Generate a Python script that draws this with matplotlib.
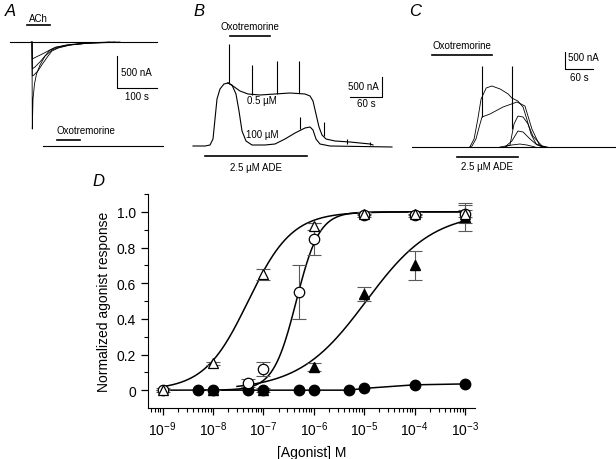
import numpy as np
import matplotlib
matplotlib.use("Agg")
import matplotlib.pyplot as plt
from matplotlib.ticker import FixedLocator, LogLocator, NullFormatter

plt.rcParams['font.family'] = ['Liberation Sans', 'DejaVu Sans']
plt.rcParams['mathtext.fontset'] = 'custom'
plt.rcParams['mathtext.rm'] = 'Liberation Sans'
plt.rcParams['mathtext.it'] = 'Liberation Sans:italic'

# ---------------- panel A: ACh currents (t in s, I in nA) ----------------
ach_base_t = [0, 367.5]
ach_base_i = [0, 0]
ach_traces = [
    ([52.5, 55, 55.75, 57.5, 61.25, 66.25, 75, 87.5, 105, 125, 150, 187.5, 250],
     [0, 0, -1360, -890, -655, -500, -360, -220, -125, -78, -47, -23, -8]),
    ([55, 55.75, 60, 70, 82.5, 95, 105, 120, 150, 200, 275],
     [0, -530, -515, -450, -330, -220, -140, -95, -47, -15, 0]),
    ([55, 55.75, 62.5, 75, 90, 100, 115, 145, 200, 262.5],
     [0, -420, -390, -310, -200, -125, -78, -47, -15, 0]),
    ([55, 55.75, 65, 80, 95, 110, 140, 187.5, 250],
     [0, -265, -235, -190, -140, -95, -47, -15, 0]),
]
oxo_a_t = [82.5, 382.5]
oxo_a_i = [-1625, -1625]

# ---------------- panel B: ADE + oxotremorine ----------------
b_rise_t = [0, 22.5, 31.9, 37.5, 41.25, 45, 50.6, 58.1, 65.6]
b_rise_i = [0, 0, 25, 175, 675, 1175, 1425, 1550, 1575]
b_05_t = [75, 88.1, 103.1, 125.6, 153.75, 181.9, 210, 219.4, 225, 230.6, 236.25,
          241.9, 249.4, 266.25, 294.4, 331.9, 337.5]
b_05_i = [1500, 1375, 1300, 1275, 1300, 1325, 1300, 1250, 1125, 800, 475,
          275, 175, 125, 100, 50, 25]
b_100_t = [73.1, 80.6, 86.25, 91.9, 99.4, 110.6, 135, 153.75, 172.5, 191.25, 210,
           219.4, 225, 230.6, 238.1, 256.9, 373.1]
b_100_i = [1525, 1300, 875, 375, 125, 25, 25, 50, 175, 325, 450,
           475, 400, 175, 50, 0, -25]
b_spike_t = [67.5, 110.6, 157.5, 198.75, 200.6, 245.6, 289, 332]
b_spike_lo = [1575, 1275, 1300, 1325, 425, 250, 50, 25]
b_spike_hi = [2550, 2025, 2125, 2125, 725, 600, 175, 100]

# ---------------- panel C ----------------
c_base_t = [0, 437]
c_base_i = [0, 0]
c_traces = [
    ([124, 133, 141, 148, 159, 171, 189, 206, 214, 227, 238, 246, 255, 266, 285],
     [0, 235, 820, 1410, 1735, 1795, 1705, 1560, 1440, 1350, 1175, 820, 380, 90, 0]),
    ([124, 128.6, 137, 145.7, 150, 167, 195, 225, 242, 257, 274, 285],
     [0, 29, 235, 676, 882, 970, 1176, 1323, 1205, 529, 29, 0]),
    ([199, 210, 218.6, 227, 238, 248.6, 259, 278.6, 290],
     [0, 59, 676, 911, 882, 676, 323, 29, 0]),
    ([199, 214, 227, 238, 253, 268, 285],
     [0, 176, 470, 441, 235, 59, 0]),
    ([188.6, 214, 231, 246, 263.6],
     [0, 59, 88, 59, 0]),
]
c_spike_t = [150, 214]
c_spike_lo = [882, 529]
c_spike_hi = [2381, 2381]

# ---------------- panel D: concentration-response ----------------
conc_otri = [1e-9, 1e-8, 1e-7, 1e-6, 1e-5, 1e-4, 1e-3]
resp_otri = [0.0, 0.15, 0.65, 0.92, 0.99, 0.99, 0.99]
err_otri = [0.01, 0.01, 0.03, 0.02, 0.01, 0.01, 0.05]

conc_ocirc = [1e-9, 5e-8, 1e-7, 5e-7, 1e-6, 1e-5, 1e-4, 1e-3]
resp_ocirc = [0.0, 0.04, 0.12, 0.55, 0.85, 0.98, 0.98, 0.99]
err_ocirc = [0.0, 0.02, 0.04, 0.15, 0.09, 0.01, 0.01, 0.02]

conc_ftri = [1e-8, 1e-7, 1e-6, 1e-5, 1e-4, 1e-3]
resp_ftri = [0.0, 0.0, 0.13, 0.54, 0.70, 0.97]
err_ftri = [0.0, 0.01, 0.02, 0.04, 0.08, 0.08]

conc_fcirc = [5e-9, 1e-8, 5e-8, 1e-7, 5e-7, 1e-6, 5e-6, 1e-5, 1e-4, 1e-3]
resp_fcirc = [0, 0, 0, 0, 0, 0, 0, 0.01, 0.03, 0.035]

# Hill fits (EC50, Hill slope, curve start)
fit_otri = (5e-8, 1.0, 1e-9)
fit_ocirc = (4.5e-7, 1.9, 1e-9)
fit_ftri = (1.1e-5, 0.65, 3e-8)

W, H = 616, 460
fig = plt.figure(figsize=(W / 100, H / 100), dpi=100)


def trace_axes(box, t0, i0, s_px, na_px):
    x0, y0, x1, y1 = box
    ax = fig.add_axes([x0 / W, 1 - y1 / H, (x1 - x0) / W, (y1 - y0) / H])
    ax.set_xlim((x0 - t0) * s_px, (x1 - t0) * s_px)
    ax.set_ylim((i0 - y1) * na_px, (i0 - y0) * na_px)
    ax.axis('off')
    return ax


lw = 0.8
fs = 7

# A
axA = trace_axes((0, 0, 190, 165), 10, 43, 2.5, 15.625)
axA.plot(ach_base_t, ach_base_i, color='k', lw=lw)
for t, i in ach_traces:
    axA.plot(t, i, color='k', lw=0.6)
axA.plot(oxo_a_t, oxo_a_i, color='k', lw=lw)
axA.plot([42.5, 100], [266, 266], color='k', lw=1.2)
axA.text(70, 380, 'ACh', fontsize=fs, ha='center', va='center')
axA.plot([117.5, 175], [-1531, -1531], color='k', lw=1.2)
axA.text(117.5, -1375, 'Oxotremorine', fontsize=fs, ha='left', va='center')
axA.plot([267.5, 267.5, 367.5], [-219, -719, -719], color='k', lw=lw)
axA.text(277.5, -469, '500 nA', fontsize=fs, ha='left', va='center')
axA.text(317.5, -850, '100 s', fontsize=fs, ha='center', va='center')

# B
axB = trace_axes((190, 0, 410, 175), 193, 147, 1.875, 25)
axB.plot(b_rise_t, b_rise_i, color='k', lw=lw)
axB.plot([b_rise_t[-1]] + b_05_t, [b_rise_i[-1]] + b_05_i, color='k', lw=lw)
axB.plot([b_rise_t[-1]] + b_100_t, [b_rise_i[-1]] + b_100_i, color='k', lw=lw)
axB.vlines(b_spike_t, b_spike_lo, b_spike_hi, color='k', lw=lw)
axB.plot([69.4, 144.4], [2750, 2750], color='k', lw=1.2)
axB.text(106.9, 2990, 'Oxotremorine', fontsize=fs, ha='center', va='center')
axB.text(129, 1160, '0.5 \u00b5M', fontsize=fs, ha='center', va='center')
axB.text(129, 290, '100 \u00b5M', fontsize=fs, ha='center', va='center')
axB.plot([22.5, 213.75], [-250, -250], color='k', lw=1.2)
axB.text(118, -520, '2.5 \u00b5M ADE', fontsize=fs, ha='center', va='center')
axB.plot([294.4, 354.4, 354.4], [1225, 1225, 1725], color='k', lw=lw)
axB.text(348, 1500, '500 nA', fontsize=fs, ha='right', va='center')
axB.text(324.4, 1080, '60 s', fontsize=fs, ha='center', va='center')

# C
axC = trace_axes((410, 0, 616, 175), 412, 148, 60 / 28, 500 / 17)
axC.plot(c_base_t, c_base_i, color='k', lw=lw)
for t, i in c_traces:
    axC.plot(t, i, color='k', lw=0.6)
axC.vlines(c_spike_t, c_spike_lo, c_spike_hi, color='k', lw=lw)
axC.plot([42.9, 171.4], [2705, 2705], color='k', lw=1.2)
axC.text(42.9, 3000, 'Oxotremorine', fontsize=fs, ha='left', va='center')
axC.plot([96.4, 227], [-294, -294], color='k', lw=1.2)
axC.text(160.7, -570, '2.5 \u00b5M ADE', fontsize=fs, ha='center', va='center')
axC.plot([327.9, 327.9, 387.9], [2793, 2293, 2293], color='k', lw=lw)
axC.text(334, 2646, '500 nA', fontsize=fs, ha='left', va='center')
axC.text(358, 2050, '60 s', fontsize=fs, ha='center', va='center')

# panel letters
for lab, x, y in [('A', 10, 12), ('B', 199, 12), ('C', 415, 12), ('D', 98, 182)]:
    fig.text(x / W, 1 - y / H, lab, fontsize=12, style='italic', ha='center', va='center')

# D
axD = fig.add_axes([148 / W, 1 - 409 / H, (475 - 148) / W, (409 - 195) / H])


def hill(c, ec50, n):
    return c ** n / (c ** n + ec50 ** n)


for ec50, n, c0 in [fit_otri, fit_ocirc, fit_ftri]:
    cc = np.logspace(np.log10(c0), -3, 300)
    axD.plot(cc, hill(cc, ec50, n), color='k', lw=1.1, zorder=2)
axD.plot(conc_fcirc, resp_fcirc, color='k', lw=1.1, zorder=2)

ekw = dict(fmt='none', ecolor='0.35', elinewidth=0.8, capsize=5, capthick=0.8, zorder=3)
axD.errorbar(conc_ocirc, resp_ocirc, yerr=err_ocirc, **ekw)
axD.errorbar(conc_otri, resp_otri, yerr=err_otri, **ekw)
axD.errorbar(conc_ftri, resp_ftri, yerr=err_ftri, **ekw)

ms = 7.5
axD.plot(conc_fcirc, resp_fcirc, 'o', ms=ms, mfc='k', mec='k', ls='none', zorder=4)
axD.plot(conc_ftri, resp_ftri, '^', ms=ms, mfc='k', mec='k', ls='none', zorder=4)
axD.plot(conc_ocirc, resp_ocirc, 'o', ms=ms, mfc='white', mec='k', mew=0.9, ls='none', zorder=5)
axD.plot(conc_otri, resp_otri, '^', ms=ms, mfc='white', mec='k', mew=0.9, ls='none', zorder=6)

axD.set_xscale('log')
axD.set_xlim(10 ** -9.29, 10 ** -2.8)
axD.set_ylim(-0.1, 1.1)
axD.xaxis.set_major_locator(LogLocator(base=10, numticks=20))
axD.xaxis.set_minor_locator(LogLocator(base=10, subs=np.arange(2, 10), numticks=20))
axD.xaxis.set_minor_formatter(NullFormatter())
axD.yaxis.set_major_locator(FixedLocator([0, 0.2, 0.4, 0.6, 0.8, 1.0]))
axD.set_yticklabels(['0', '0.2', '0.4', '0.6', '0.8', '1.0'])
axD.yaxis.set_minor_locator(FixedLocator([0.1, 0.3, 0.5, 0.7, 0.9, 1.1]))
for s in ['top', 'right']:
    axD.spines[s].set_visible(False)
axD.tick_params(which='major', direction='out', length=5, width=0.9, labelsize=10)
axD.tick_params(which='minor', direction='out', length=3, width=0.8)
axD.set_ylabel('Normalized agonist response', fontsize=10, labelpad=4)
axD.set_xlabel('[Agonist] M', fontsize=10, labelpad=5)

fig.savefig('out.png', dpi=100)
